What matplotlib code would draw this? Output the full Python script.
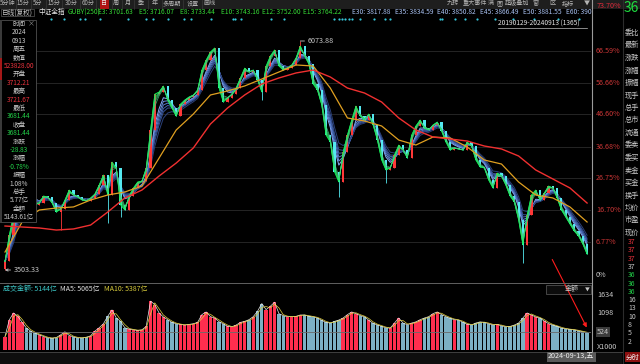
import matplotlib
matplotlib.use('Agg')
import matplotlib.pyplot as plt
import matplotlib.transforms as mtransforms
from matplotlib.patches import Rectangle, FancyArrowPatch
from matplotlib.lines import Line2D
import numpy as np
import pandas as pd

plt.rcParams['font.family'] = ['Noto Sans CJK SC', 'DejaVu Sans']

W, H = 640, 364

# 收盘价, 每根约 10 个交易日 (2019-01-29 ~ 2024-09-13)
closes = [3600, 3896, 4121, 4424, 4536, 4513, 4289, 4233, 4255, 4334,
          4322, 4255, 4154, 4188, 4289, 4401, 4345, 4322, 4289, 4278,
          4311, 4356, 4457, 4570, 4345, 4716, 4648, 4233, 4177, 4334,
          4424, 4491, 4502, 4648, 5075, 5479, 5501, 5568, 5411, 5321,
          5231, 5366, 5411, 5445, 5467, 5524, 5748, 5860, 5950, 5995,
          5546, 5389, 5434, 5479, 5546, 5658, 5770, 5725, 5748, 5636,
          5501, 5793, 5905, 5973, 5793, 5748, 5770, 5804, 5883, 6017,
          5905, 5815, 5591, 5524, 5355, 5018, 4940, 4603, 4491, 4828,
          5018, 5187, 5344, 5231, 5187, 5254, 5131, 4962, 4738, 4626,
          4648, 4794, 4906, 4850, 4761, 5018, 5120, 5187, 5097, 5075,
          5131, 5164, 5063, 4940, 4850, 4873, 4861, 4850, 4940, 4895,
          4738, 4660, 4648, 4513, 4424, 4592, 4558, 4457, 4334, 4266,
          4065, 3784, 4121, 4345, 4401, 4289, 4367, 4446, 4424, 4311,
          4177, 4098, 4019, 3941, 3885, 3795, 3681.44]
first_open = 3520

# 影线极值
wick_idx = [0, 13, 24, 27, 60, 69, 78, 89, 121]
wick_val = [3503.33, 3952, 4031, 4098, 5411, 6073.88, 4323, 4480, 3582]

# 长期均线 (每 4 根取一点)
ma_idx = list(range(0, 137, 4))
ma_mid = [3705, 4042, 4177, 4199, 4211, 4289, 4345, 4379, 4446, 4760,
          5075, 5254, 5468, 5513, 5569, 5647, 5726, 5805, 5793, 5546,
          5210, 5176, 5120, 4962, 4906, 4996, 4985, 4884, 4738, 4693,
          4491, 4345, 4312, 4211, 4042]
ma_long = [3997, 3986, 3975, 3952, 3964, 4008, 4154, 4312, 4401, 4558,
           4704, 4873, 5142, 5322, 5468, 5591, 5659, 5715, 5748, 5670,
           5546, 5490, 5389, 5210, 5075, 4996, 4974, 4951, 4895, 4862,
           4783, 4626, 4525, 4424, 4255]

# 成交金额 (X1000)
amounts = [400, 894, 1100, 1000, 820, 650, 560, 500, 450, 400,
           360, 350, 370, 450, 540, 430, 390, 360, 360, 380,
           420, 560, 660, 780, 1000, 1190, 950, 850, 660, 620,
           600, 580, 600, 700, 1450, 1350, 1100, 980, 900, 820,
           780, 760, 740, 760, 780, 820, 1050, 1130, 990, 950,
           840, 780, 700, 690, 740, 820, 850, 900, 990, 1150,
           1380, 1200, 1300, 1420, 1080, 1020, 990, 990, 1000, 1040,
           1040, 1000, 990, 950, 880, 820, 800, 850, 890, 950,
           1050, 1130, 1080, 1020, 990, 880, 790, 745, 700, 660,
           650, 800, 950, 800, 750, 800, 835, 900, 950, 990,
           1080, 1130, 1050, 990, 940, 900, 890, 820, 760, 745,
           800, 835, 820, 780, 745, 760, 720, 690, 700, 740,
           800, 950, 1100, 1040, 980, 950, 860, 780, 740, 700,
           650, 630, 610, 600, 570, 540, 514]

# GUBY 均线组
short_periods = [3, 5, 8, 10, 12, 15]
long_periods = [30, 35, 40, 45, 50, 60]
e_names = ['E3', 'E5', 'E8', 'E10', 'E12', 'E15', 'E30', 'E35', 'E40', 'E45', 'E50', 'E60']
e_vals = ['3701.63', '3716.07', '3733.44', '3743.16', '3752.00', '3764.22',
          '3817.88', '3834.59', '3850.82', '3866.49', '3881.55', '390']

# 坐标轴文字
pct_labels = ['66.59%', '56.66%', '46.60%', '36.68%', '26.75%', '16.70%', '6.77%']
vol_ticks = [1634, 1098, 524]
year_labels = ['2019', '2020', '2021', '2022', '2023', '2024']
year_days = [0, 230, 473, 716, 958, 1200]
event_days = [112, 144, 181, 193, 228, 293, 335, 351, 386, 423, 440, 486, 537, 542,
              556, 626, 658, 774, 786, 793, 800, 809, 816, 835, 867, 893, 905,
              1021, 1026, 1056, 1079, 1107, 1149, 1193, 1240, 1298, 1347]

info_rows = [('时间', 'g'), ('2024', 'g'), ('0913', 'g'), ('周五', 'g'),
             ('数值', 'g'), ('523828.00', 'r'), ('开盘', 'g'), ('3712.21', 'r'),
             ('最高', 'g'), ('3721.67', 'r'), ('最低', 'g'), ('3681.44', 'd'),
             ('收盘', 'g'), ('3681.44', 'd'), ('涨跌', 'g'), ('-28.83', 'd'),
             ('涨幅', 'g'), ('-0.78%', 'd'), ('振幅', 'g'), ('1.08%', 'g'),
             ('总手', 'g'), ('5.77亿', 'g'), ('金额', 'g'), ('5143.61亿', 'g')]

side_labels = ['委比', '最新', '涨跌', '涨幅', '振幅', '现手', '总手', '总市', '流通',
               '委卖', '委买', '卖金', '买金', '换手', '均价', '市盈', '现价']

UP = '#ff3838'
DOWN = '#54e8f0'
GRAY = '#c8c8c8'
RED_TXT = '#e8323c'
GREEN_TXT = '#22d048'


def fx(x):
    return x / W


def fy(y):
    return 1 - y / H


def p_at(y):
    # 像素行 -> 价格
    return 3503.33 + (270 - y) * 11.225


def ema(vals, n, step=10):
    a = 1 - (1 - 2 / (n + 1)) ** step
    out = [vals[0]]
    for v in vals[1:]:
        out.append(out[-1] + a * (v - out[-1]))
    return np.array(out)


fig = plt.figure(figsize=(6.4, 3.64), dpi=100, facecolor='black')

# ---------------- 主图 ----------------
ax = fig.add_axes([0, fy(281), fx(591), fy(17) - fy(281)])
ax.set_facecolor('black')
ax.set_xlim(-5 / 4.28, (591 - 5) / 4.28)
ax.set_ylim(p_at(281), p_at(17))
ax.axis('off')

for gy in [50.7, 82.7, 114.3, 146.7, 178.3, 210.3, 242.3]:
    ax.axhline(p_at(gy), color='#2a2a2a', lw=0.6, zorder=0)

n = len(closes)
xs = np.arange(n)
opens = np.array([first_open] + closes[:-1], dtype=float)
cl = np.array(closes, dtype=float)
up = cl >= opens
cols = [UP if u else DOWN for u in up]
hi = np.maximum(opens, cl)
lo = np.minimum(opens, cl)
for i, v in zip(wick_idx, wick_val):
    hi[i] = max(hi[i], v)
    lo[i] = min(lo[i], v)

# 长期组 (蓝)
blues = ['#86aaf6', '#6a8fe0', '#5578c8', '#4262ad', '#344f92', '#2a3f78']
for per, c in zip(long_periods, blues):
    ax.plot(xs, ema(cl, per), color=c, lw=0.7, zorder=2)

ax.vlines(xs, lo, hi, colors=cols, lw=0.6, zorder=3)
ax.bar(xs, np.maximum(np.abs(cl - opens), 8), bottom=np.minimum(opens, cl),
       width=0.5, color=cols, lw=0, zorder=3)

# 短期组 (绿)
greens = ['#00ff4c', '#12f458', '#22ea62', '#30de6c', '#3ad276', '#46c880']
for per, c in zip(short_periods, greens):
    ax.plot(xs, ema(cl, per), color=c, lw=0.55, alpha=0.85, zorder=4)

ax.plot(ma_idx, ma_mid, color='#e0a020', lw=0.9, zorder=5)
ax.plot(ma_idx, ma_long, color='#f03030', lw=1.0, zorder=5)

ax.annotate('6073.88', xy=(69, 6073.88), xytext=(5, 0), textcoords='offset points',
            va='center', ha='left', fontsize=5.2, color=GRAY,
            arrowprops=dict(arrowstyle='-', color=GRAY, lw=0.6, shrinkA=0, shrinkB=0))
ax.annotate('3503.33', xy=(0, 3503.33), xytext=(6, 0), textcoords='offset points',
            va='center', ha='left', fontsize=5.2, color=GRAY,
            arrowprops=dict(arrowstyle='->', color=GRAY, lw=0.6, shrinkA=0, shrinkB=0,
                            mutation_scale=4))

ev = (np.array(event_days) - 5) / 10
ax.plot(ev, [p_at(19)] * len(ev), 'o', ms=1.6, color='#36c6da', mec='none', zorder=6)

# ---------------- 成交金额 ----------------
axv = fig.add_axes([0, fy(351), fx(591), fy(284) - fy(351)])
axv.set_facecolor('black')
axv.set_xlim(ax.get_xlim())
axv.set_ylim(-30, 1960)
axv.axis('off')
vcols = ['#ff2e4e' if u else '#7cb0c4' for u in up]
axv.bar(xs, amounts, width=0.78, color=vcols, lw=0)
am = pd.Series(amounts, dtype=float)
axv.plot(xs, am, color='#e8e8e8', lw=0.5)
axv.plot(xs, am.rolling(2, min_periods=1).mean(), color='#e0d040', lw=0.5)
axv.axhline(524, color='#6a6a6a', lw=0.6)

tr_v = mtransforms.blended_transform_factory(fig.transFigure, axv.transData)
for t in vol_ticks:
    bb = dict(boxstyle='square,pad=0.15', fc='#3c3c3c', ec='none') if t == 524 else None
    axv.text(fx(597), t, str(t), transform=tr_v, ha='left', va='center',
             fontsize=5.2, color=GRAY, bbox=bb, clip_on=False)
fig.text(fx(597), fy(347), 'X1000', ha='left', va='center', fontsize=5.2, color=GRAY)

# ---------------- 框线 ----------------
def hline(y, x0, x1, c='#505050', lw=0.7):
    fig.add_artist(Line2D([fx(x0), fx(x1)], [fy(y), fy(y)], color=c, lw=lw,
                          transform=fig.transFigure))


def vline(x, y0, y1, c='#505050', lw=0.7):
    fig.add_artist(Line2D([fx(x), fx(x)], [fy(y0), fy(y1)], color=c, lw=lw,
                          transform=fig.transFigure))


hline(283, 0, 591, '#606060')
hline(351.5, 0, 622, '#404040')
vline(591.5, 0, 351, '#9a9a9a', 0.8)
vline(623, 0, 364, '#2c2c2c', 0.8)

# 百分比刻度
for gy, lab in zip([50.7, 82.7, 114.3, 146.7, 178.3, 210.3, 242.3], pct_labels):
    fig.text(fx(596), fy(gy), lab, ha='left', va='center', fontsize=5.2, color='#cc3636')
fig.text(fx(596), fy(275), '0%', ha='left', va='center', fontsize=5.2, color=GRAY)
fig.text(fx(597), fy(6), '73.70%', ha='left', va='center', fontsize=5.2, color='#e02a3a')

# ---------------- 顶部工具栏 ----------------
fig.add_artist(Rectangle((0, fy(8.5)), 1, fy(0) - fy(8.5), transform=fig.transFigure,
                         fc='#1e1e1e', ec='none'))
left_btns = ['5分钟', '15分', '5分', '15分', '30分', '60分', '日', '周', '月', '季', '年',
             '多周期', '设置', '画线']
left_x = [8, 23, 38, 54, 71, 88, 104, 116, 128, 141, 155, 172, 193, 210]
for t, x in zip(left_btns, left_x):
    if t == '日':
        fig.add_artist(Rectangle((fx(99.5), fy(8.5)), fx(9.5), fy(0) - fy(8.5),
                                 transform=fig.transFigure, fc='#b01414', ec='none'))
    fig.text(fx(x), fy(3), t, ha='center', va='center', fontsize=4.4,
             color='#f0f0f0' if t == '日' else '#b4b4b4')
for x in [15.5, 30.5, 46, 62, 80, 96, 112, 122, 134, 148, 162, 183, 202]:
    vline(x, 0, 8.5, '#3a3a3a', 0.5)
right_btns = ['九转', '重大事件', '满', '图', '超级叠加', '窗', '区', '指标', '▼']
right_x = [453, 475, 491, 500, 517, 536, 552, 568, 587]
for t, x in zip(right_btns, right_x):
    fig.text(fx(x), fy(3), t, ha='center', va='center', fontsize=4.4, color='#b4b4b4')

# 指标说明行
fig.add_artist(Rectangle((fx(0.5), fy(16)), fx(33), fy(8.5) - fy(16), transform=fig.transFigure,
                         fc='black', ec='#484848', lw=0.6))
fig.text(fx(2), fy(12.3), '日线(复权)', ha='left', va='center', fontsize=4.8, color=GRAY)
fig.text(fx(38), fy(12.3), '中证全指', ha='left', va='center', fontsize=4.8, color='#e8e8e8')
fig.text(fx(68), fy(12.3), 'GUBY(250)', ha='left', va='center', fontsize=4.8, color='#36d836')
e_x = [98, 139, 180, 221, 262, 303, 352, 395, 437, 480, 523, 566]
for i, (nm, v, x) in enumerate(zip(e_names, e_vals, e_x)):
    fig.text(fx(x), fy(12.3), f'{nm}: {v}', ha='left', va='center', fontsize=4.8,
             color='#36d836' if i < 6 else '#a8c0f0')
fig.text(fx(498), fy(24), '20190129-20240913 (1365)', ha='left', va='center', fontsize=4.8,
         color='#e0e0e0')
hline(27.6, 498, 587, '#c0c0c0', 0.5)

fig.text(fx(624), fy(8), '36', ha='left', va='center', fontsize=10, color='#1ee040')

# ---------------- 左侧信息框 ----------------
fig.add_artist(Rectangle((fx(0), fy(222)), fx(36), fy(20) - fy(222), transform=fig.transFigure,
                         fc='black', ec='#505050', lw=0.6, zorder=5))
fig.add_artist(Rectangle((0, fy(222)), fx(2), fy(20) - fy(222), transform=fig.transFigure,
                         fc='#3a3a3a', ec='none', zorder=6))
fig.add_artist(Rectangle((0, fy(80)), fx(2), fy(58) - fy(80), transform=fig.transFigure,
                         fc='#a41818', ec='none', zorder=6))
fig.text(fx(31.5), fy(23), '×', ha='center', va='center', fontsize=5, color='#909090', zorder=7)
cmap = {'g': GRAY, 'r': RED_TXT, 'd': GREEN_TXT}
for k, (t, c) in enumerate(info_rows):
    fig.text(fx(19), fy(24 + 8.4 * k), t, ha='center', va='center', fontsize=4.7,
             color=cmap[c], zorder=7)

# ---------------- 成交金额标题 ----------------
fig.text(fx(3), fy(289), '成交金额: 5144亿', ha='left', va='center', fontsize=5, color='#3cc8c8')
fig.text(fx(60), fy(289), 'MA5: 5065亿', ha='left', va='center', fontsize=5, color='#e0e0e0')
fig.text(fx(104), fy(289), 'MA10: 5387亿', ha='left', va='center', fontsize=5, color='#d8cc3c')
fig.add_artist(Rectangle((fx(546), fy(294)), fx(45), fy(284.5) - fy(294), transform=fig.transFigure,
                         fc='#0c0c0c', ec='#505050', lw=0.6))
fig.text(fx(572), fy(289.5), '金额', ha='center', va='center', fontsize=5, color=GRAY)
fig.text(fx(587), fy(289.5), '▼', ha='center', va='center', fontsize=3.5, color=GRAY)

# 时间轴
fig.add_artist(Rectangle((0, 0), fx(622), fy(352), transform=fig.transFigure,
                         fc='#0e0e0e', ec='none'))
tr_x = mtransforms.blended_transform_factory(ax.transData, fig.transFigure)
for lab, d in zip(year_labels, year_days):
    ax.text((d - 5) / 10 + 0.3, fy(357), lab, transform=tr_x, ha='left', va='center',
            fontsize=5.2, color=GRAY, clip_on=False)
fig.text(fx(548), fy(357), '2024-09-13,五', ha='left', va='center', fontsize=5.2,
         color='#f0f0f0', bbox=dict(boxstyle='square,pad=0.15', fc='#5a5a5a', ec='none'))

# 红色箭头
fig.add_artist(FancyArrowPatch((fx(551), fy(257)), (fx(588), fy(330)), transform=fig.transFigure,
                               arrowstyle='-|>', mutation_scale=6, color='#ff1c1c', lw=0.8))

# ---------------- 右侧行情面板 ----------------
for k, t in enumerate(side_labels):
    fig.text(fx(625), fy(33 + 12.5 * k), t, ha='left', va='center', fontsize=5.2, color=GRAY)
side_nums = [('37', RED_TXT), ('37', RED_TXT), ('37', RED_TXT), ('37', GRAY),
             ('36', GREEN_TXT), ('36', GREEN_TXT), ('36', GREEN_TXT), ('16', GRAY),
             ('13', GRAY), ('10', GRAY), ('8', GRAY), ('5', GRAY), ('2', GRAY)]
for k, (t, c) in enumerate(side_nums):
    fig.text(fx(628), fy(242 + 8.3 * k), t, ha='left', va='center', fontsize=5, color=c)
fig.add_artist(Rectangle((fx(625), fy(362)), fx(15), fy(352) - fy(362), transform=fig.transFigure,
                         fc='#8c1010', ec='none'))
fig.text(fx(626), fy(357.5), '分时', ha='left', va='center', fontsize=5, color='#f0f0f0')

fig.savefig('out.png', dpi=100, facecolor='black')
